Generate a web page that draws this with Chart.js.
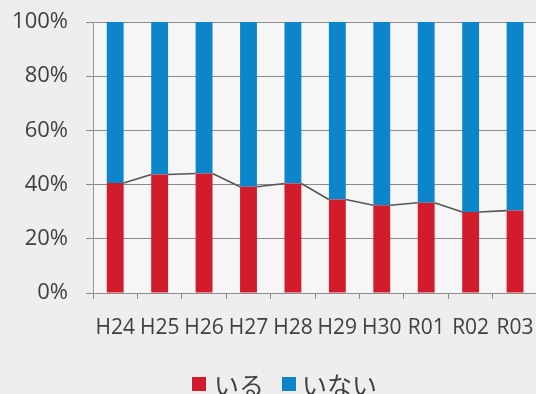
<!DOCTYPE html>
<html>
<head>
<meta charset="utf-8">
<script src="https://cdn.jsdelivr.net/npm/chart.js@4"></script>
<style>
  html, body { margin: 0; padding: 0; background: #eeeeee; overflow: hidden; }
  #wrap { position: relative; width: 550px; height: 394px; }
  #legend { position: absolute; left: 0; top: 369px; height: 30px; font-family: 'Noto Sans CJK JP', sans-serif;
            font-size: 25px; color: #404040; line-height: 30px; white-space: nowrap; }
  #legend span.sw { position: absolute; top: 8px; width: 14px; height: 14px; }
  #legend span.tx { position: absolute; top: 0; }
</style>
</head>
<body>
<div id="wrap">
  <canvas id="c" width="550" height="394"></canvas>
  <div id="legend"></div>
</div>
<script>
// Fiscal years (Heisei / Reiwa)
const years = ['H24', 'H25', 'H26', 'H27', 'H28', 'H29', 'H30', 'R01', 'R02', 'R03'];
// Share of respondents (%)
const iru  = [40.6, 43.7, 44.1, 39.2, 40.4, 34.5, 32.4, 33.3, 29.9, 30.4];
const inai = [59.4, 56.3, 55.9, 60.8, 59.6, 65.5, 67.6, 66.7, 70.1, 69.6];
const yTicks = [0, 20, 40, 60, 80, 100];

const RED = '#d21c2b';
const BLUE = '#0d85cb';
const TEXT = '#404040';
const FONT = "'Open Sans', sans-serif";

// Light plot-area background
const plotBg = {
  id: 'plotBg',
  beforeDraw(chart) {
    const { ctx, chartArea: a } = chart;
    ctx.save();
    ctx.fillStyle = '#f6f6f6';
    ctx.fillRect(a.left, a.top, a.right - a.left, a.bottom - a.top);
    ctx.restore();
  }
};

// Series lines joining the tops of the lower stack between neighbouring bars
const seriesLines = {
  id: 'seriesLines',
  afterDatasetsDraw(chart) {
    const meta = chart.getDatasetMeta(0);
    const { ctx } = chart;
    ctx.save();
    ctx.strokeStyle = '#555555';
    ctx.lineWidth = 1.6;
    ctx.beginPath();
    for (let i = 0; i < meta.data.length - 1; i++) {
      const a = meta.data[i], b = meta.data[i + 1];
      ctx.moveTo(a.x + a.width / 2, a.y);
      ctx.lineTo(b.x - b.width / 2, b.y);
    }
    ctx.stroke();
    ctx.restore();
  }
};

const chart = new Chart(document.getElementById('c'), {
  type: 'bar',
  data: {
    labels: years,
    datasets: [
      { label: 'いる', data: iru, backgroundColor: RED },
      { label: 'いない', data: inai, backgroundColor: BLUE }
    ]
  },
  options: {
    responsive: false,
    animation: false,
    layout: { padding: { top: 22, right: 9, left: 0, bottom: 0 } },
    datasets: { bar: { barPercentage: 0.38, categoryPercentage: 1.0 } },
    plugins: {
      legend: { display: false },
      tooltip: { enabled: false }
    },
    scales: {
      x: {
        stacked: true,
        afterFit(scale) { scale.height = 101; },
        grid: { drawOnChartArea: false, drawTicks: true, tickLength: 6, color: '#8c8c8c' },
        border: { color: '#8c8c8c' },
        ticks: { color: TEXT, font: { family: FONT, size: 21 }, maxRotation: 0, minRotation: 0, autoSkip: false, padding: 16 }
      },
      y: {
        stacked: true,
        min: 0, max: 100,
        afterBuildTicks(scale) { scale.ticks = yTicks.map(v => ({ value: v })); },
        afterFit(scale) {
          scale.width = 93;
          scale.paddingTop = 0;
          scale.paddingBottom = 0;
        },
        grid: { color: '#8c8c8c', tickLength: 7 },
        border: { color: '#9a9a9a' },
        ticks: { color: TEXT, font: { family: FONT, size: 22 }, padding: 18, callback: v => v + '%' }
      }
    }
  },
  plugins: [plotBg, seriesLines]
});

// Legend built from the chart's own datasets
const legendPos = [[192, 214], [282, 302]];
const legendEl = document.getElementById('legend');
chart.data.datasets.forEach((ds, i) => {
  const sw = document.createElement('span');
  sw.className = 'sw';
  sw.style.left = legendPos[i][0] + 'px';
  sw.style.background = ds.backgroundColor;
  const tx = document.createElement('span');
  tx.className = 'tx';
  tx.style.left = legendPos[i][1] + 'px';
  tx.textContent = ds.label;
  legendEl.appendChild(sw);
  legendEl.appendChild(tx);
});
</script>
</body>
</html>
